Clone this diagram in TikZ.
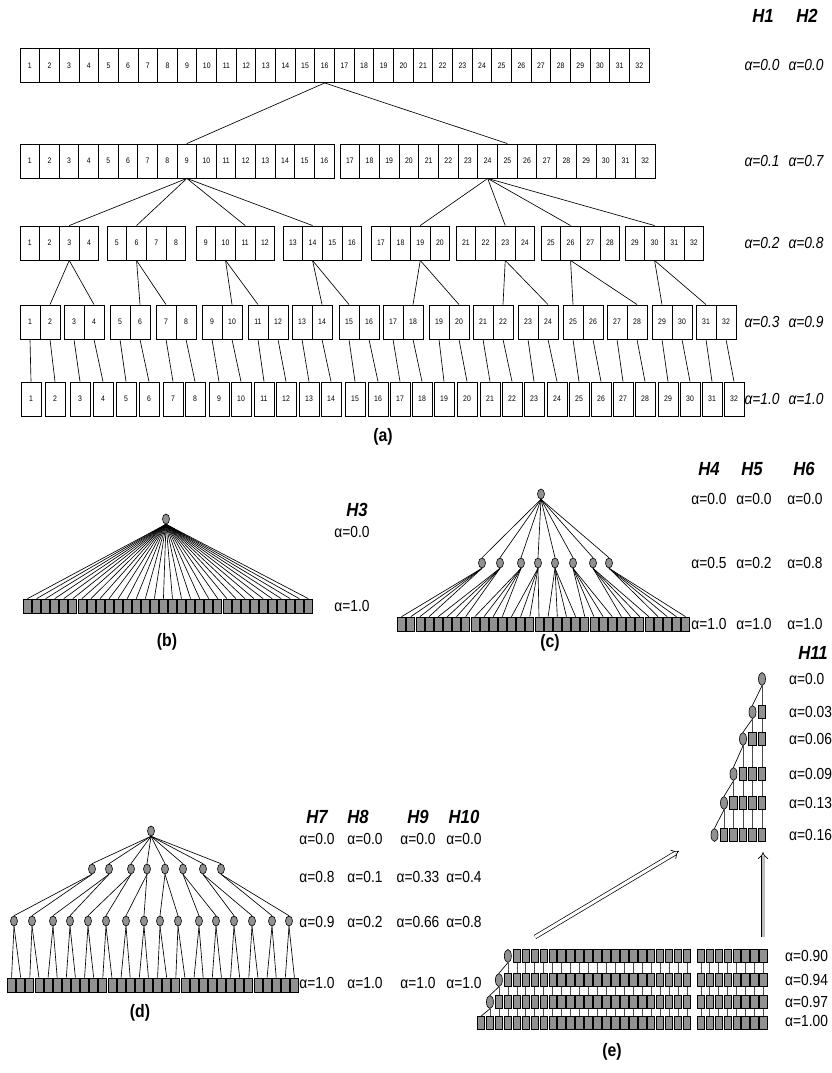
\documentclass[tikz,border=0pt]{standalone}
\usepackage{fontspec}
\setmainfont{Liberation Sans}
\newfontfamily\narrowf[FakeStretch=0.86]{Liberation Sans}
\newfontfamily\narrowh[FakeStretch=0.88]{Liberation Sans}
\usetikzlibrary{shapes.geometric,arrows.meta}
\definecolor{lf}{RGB}{145,145,145}
\newcommand\hfnt{\narrowh\fontsize{19}{19}\selectfont\bfseries\itshape}
\newcommand\afnt{\narrowf\fontsize{16}{16}\selectfont\itshape}
\newcommand\bfnt{\narrowf\fontsize{16}{16}\selectfont}
\newcommand\pfnt{\narrowh\fontsize{18}{18}\selectfont\bfseries}
\newcommand\cfnt{\narrowf\fontsize{8}{8}\selectfont}
\begin{document}
\begin{tikzpicture}[x=1pt,y=-1pt,
  cell/.style={draw,fill=white,rectangle,line width=0.9pt,minimum height=34pt,inner sep=0pt,font=\cfnt},
  leaf/.style={draw,fill=lf,rectangle,line width=0.7pt,minimum width=8pt,minimum height=14pt,inner sep=0pt},
  inode/.style={draw,fill=lf,ellipse,line width=0.6pt,minimum width=7pt,minimum height=10pt,inner sep=0pt},
  ebox/.style={draw,fill=lf,rectangle,line width=0.7pt,minimum width=7.5pt,minimum height=13pt,inner sep=0pt},
  eell/.style={draw,fill=lf,ellipse,line width=0.6pt,minimum width=7pt,minimum height=13pt,inner sep=0pt},
  edge/.style={line width=0.65pt},
  vedge/.style={line width=0.6pt,draw=black!70},
  hlab/.style={font=\hfnt,inner sep=0pt},
  alab/.style={font=\afnt,inner sep=0pt},
  blab/.style={font=\bfnt,inner sep=0pt},
  plab/.style={font=\pfnt,inner sep=0pt},
  bigarrow/.style={line width=0.7pt,double distance=3pt,-{Implies}}]
\useasboundingbox (0,0) rectangle (832,1073);
\fill[white] (0,0) rectangle (832,1073);

% ---------------- (a) ----------------
\foreach \i in {1,...,32}
  \node[cell,minimum width=19.66pt] (r1c\i) at ({20+(\i-0.5)*19.66},65.5) {\i};
\foreach \i in {1,...,16}
  \node[cell,minimum width=19.63pt] (r2c\i) at ({20+(\i-0.5)*19.63},161) {\i};
\foreach \i in {17,...,32}
  \node[cell,minimum width=19.69pt] (r2c\i) at ({340+(\i-16.5)*19.69},161) {\i};
\foreach \s [count=\b] in {20,107,196,283,371,456,541,625}
  \foreach \k in {1,...,4}{
    \pgfmathtruncatemacro\n{(\b-1)*4+\k}
    \node[cell,minimum width=19.7pt] (r3c\n) at ({\s+(\k-0.5)*19.7},243) {\n};
  }
\foreach \s [count=\b] in {20,64,110,156,202,248,292,339,383,429,473,518,563,607,652,696}
  \foreach \k in {1,2}{
    \pgfmathtruncatemacro\n{(\b-1)*2+\k}
    \node[cell,minimum width=20pt] (r4c\n) at ({\s+(\k-0.5)*20},322) {\n};
  }
\foreach \s [count=\i] in {21,45,70,93,116,139,163,185,209,231,254,276,299,321,345,368,390,412,434,457,480,502,524,547,569,591,613,635,658,680,702,724}
  \node[cell,minimum width=20pt] (r5c\i) at ({\s+10},399) {\i};

\draw[edge] (r1c16.south) -- (r2c9.north);
\draw[edge] (r1c16.south) -- (r2c25.north);
\foreach \t in {3,6,11,14} \draw[edge] (r2c9.south) -- (r3c\t.north);
\foreach \t in {19,23,26,30} \draw[edge] (r2c24.south) -- (r3c\t.north);
\foreach \p/\a/\b in {3/2/4,6/6/7,10/10/11,14/14/15,19/18/20,23/22/24,26/25/28,30/29/31}{
  \draw[edge] (r3c\p.south) -- (r4c\a.north);
  \draw[edge] (r3c\p.south) -- (r4c\b.north);
}
\foreach \i in {1,...,32} \draw[edge] (r4c\i.south) -- (r5c\i.north);

\node[hlab] (hH1) at (763,16) {H1};
\node[hlab] (hH2) at (807,16) {H2};
\foreach \y/\u/\v [count=\k] in {65/0.0/0.0,161/0.1/0.7,243/0.2/0.8,322/0.3/0.9,399/1.0/1.0}{
  \node[alab] (aL\k) at (762,\y) {α=\u};
  \node[alab] (aR\k) at (806,\y) {α=\v};
}
\node[plab] (pa) at (383,437) {(a)};

% ---------------- (b) ----------------
\node[inode] (b0) at (166,519) {};
\foreach \i in {1,...,32}{
  \node[leaf] (bl\i) at ({23+(\i-0.5)*9.06},606) {};
  \draw[edge] (b0.south) -- (bl\i.north);
}
\node[hlab] (hH3) at (357,510) {H3};
\node[blab] (b1) at (352,532) {α=0.0};
\node[blab] (b2) at (352,606) {α=1.0};
\node[plab] (pb) at (167,642) {(b)};

% ---------------- (c) ----------------
\node[inode] (c0) at (541,494) {};
\foreach \i in {1,...,32}
  \node[leaf] (cl\i) at ({397+(\i-0.5)*9.16},624) {};
\foreach \x [count=\j] in {482,500,521,538,555,573,593,609}{
  \node[inode] (cm\j) at (\x,563) {};
  \draw[edge] (c0.south) -- (cm\j.north);
  \foreach \k in {1,...,4}{
    \pgfmathtruncatemacro\n{(\j-1)*4+\k}
    \draw[edge] (cm\j.south) -- (cl\n.north);
  }
}
\node[hlab] (hH4) at (709,469) {H4};
\node[hlab] (hH5) at (752,469) {H5};
\node[hlab] (hH6) at (804,469) {H6};
\foreach \y/\p/\q/\r [count=\k] in {499/0.0/0.0/0.0,563/0.5/0.2/0.8,624/1.0/1.0/1.0}{
  \node[blab] (cA\k) at (709,\y) {α=\p};
  \node[blab] (cB\k) at (754,\y) {α=\q};
  \node[blab] (cC\k) at (805,\y) {α=\r};
}
\node[plab] (pc) at (550,643) {(c)};

% ---------------- (d) ----------------
\node[inode] (d0) at (151,831) {};
\foreach \i in {1,...,32}
  \node[leaf] (dl\i) at ({7+(\i-0.5)*9.125},985) {};
\foreach \x [count=\k] in {14,32,53,70,88,106,126,144,160,178,199,216,234,252,272,289}{
  \node[inode] (dn\k) at (\x,921) {};
  \pgfmathtruncatemacro\na{2*\k-1}
  \pgfmathtruncatemacro\nb{2*\k}
  \draw[edge] (dn\k.south) -- (dl\na.north);
  \draw[edge] (dn\k.south) -- (dl\nb.north);
}
\foreach \x [count=\j] in {92,109,131,147,165,183,203,221}{
  \node[inode] (dm\j) at (\x,869) {};
  \draw[edge] (d0.south) -- (dm\j.north);
  \pgfmathtruncatemacro\na{2*\j-1}
  \pgfmathtruncatemacro\nb{2*\j}
  \draw[edge] (dm\j.south) -- (dn\na.north);
  \draw[edge] (dm\j.south) -- (dn\nb.north);
}
\node[hlab] (hH7) at (317,817) {H7};
\node[hlab] (hH8) at (358,817) {H8};
\node[hlab] (hH9) at (418,817) {H9};
\node[hlab] (hH10) at (464,817) {H10};
\foreach \y/\p/\q/\r/\s [count=\k] in {839/0.0/0.0/0.0/0.0,877/0.8/0.1/0.33/0.4,922/0.9/0.2/0.66/0.8,983/1.0/1.0/1.0/1.0}{
  \node[blab] (dA\k) at (317,\y) {α=\p};
  \node[blab] (dB\k) at (365,\y) {α=\q};
  \node[blab] (dC\k) at (418,\y) {α=\r};
  \node[blab] (dD\k) at (464,\y) {α=\s};
}
\node[plab] (pd) at (140,1013) {(d)};

% ---------------- (e) small tree H11 ----------------
\foreach \y [count=\k from 0] in {679,712,739,774,803,835}{
  \node[eell] (hE\k) at ({762-9.5*\k},\y) {};
  \ifnum\k>0
    \pgfmathtruncatemacro\km{\k-1}
    \foreach \c in {0,...,\km}
      \node[ebox] (hB\k x\c) at ({762-9.5*\c},\y) {};
  \fi
}
\foreach \k in {0,...,4}{
  \pgfmathtruncatemacro\kp{\k+1}
  \draw[edge] (hE\k.south) -- (hE\kp.north);
  \draw[vedge] (hE\k.south) -- (hB\kp x\k.north);
}
\foreach \k in {1,...,4}{
  \pgfmathtruncatemacro\kp{\k+1}
  \pgfmathtruncatemacro\km{\k-1}
  \foreach \c in {0,...,\km}
    \draw[vedge] (hB\k x\c.south) -- (hB\kp x\c.north);
}
\node[hlab] (hH11) at (813,653) {H11};
\foreach \y/\v [count=\k] in {679/0.0,712/0.03,739/0.06,774/0.09,803/0.13,835/0.16}
  \node[blab,anchor=west] (hL\k) at (789,\y) {α=\v};

% ---------------- (e) big block ----------------
\foreach \j in {1,...,32}{
  \pgfmathsetmacro\cx{481+(\j-1)*8.95+(\j>24)*5}
  \node[ebox] (e3b\j) at (\cx,1023) {};
  \ifnum\j>2 \node[ebox] (e2b\j) at (\cx,1002) {}; \fi
  \ifnum\j>3 \node[ebox] (e1b\j) at (\cx,980) {}; \fi
  \ifnum\j>4 \node[ebox] (e0b\j) at (\cx,956) {}; \fi
}
\node[eell] (e2e) at ({481+1*8.95},1002) {};
\node[eell] (e1e) at ({481+2*8.95},980) {};
\node[eell] (e0e) at ({481+3*8.95},956) {};
\draw[edge] (e0e.south) -- (e1e.north);
\draw[vedge] (e0e.south) -- (e1b4.north);
\draw[edge] (e1e.south) -- (e2e.north);
\draw[vedge] (e1e.south) -- (e2b3.north);
\draw[edge] (e2e.south) -- (e3b1.north);
\draw[vedge] (e2e.south) -- (e3b2.north);
\foreach \j in {5,...,32} \draw[vedge] (e0b\j.south) -- (e1b\j.north);
\foreach \j in {4,...,32} \draw[vedge] (e1b\j.south) -- (e2b\j.north);
\foreach \j in {3,...,32} \draw[vedge] (e2b\j.south) -- (e3b\j.north);
\foreach \y/\v [count=\k] in {956/0.90,980/0.94,1002/0.97,1021/1.00}
  \node[blab,anchor=west] (eL\k) at (785,\y) {α=\v};

\coordinate (ea1) at (535,937);
\coordinate (ea2) at (679,851);
\coordinate (eb1) at (763,937);
\coordinate (eb2) at (763,852);
\draw[bigarrow,double=white] (ea1) -- (ea2);
\draw[bigarrow,double=lf!60] (eb1) -- (eb2);
\node[plab] (pe) at (612,1052) {(e)};
\end{tikzpicture}
\end{document}
